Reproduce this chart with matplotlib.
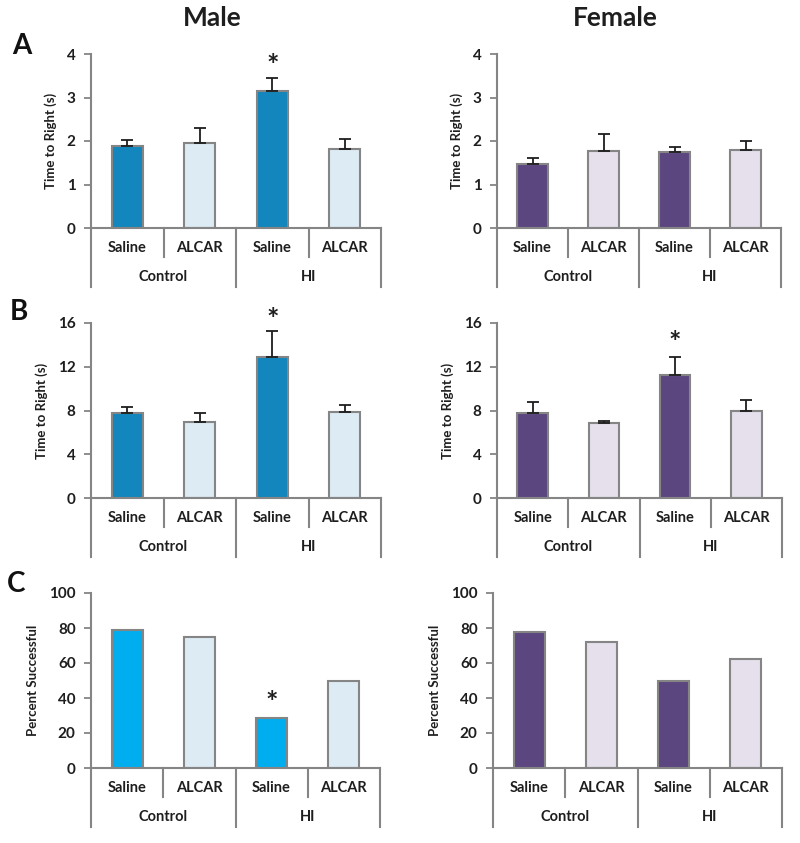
import numpy as np
import matplotlib
matplotlib.use("Agg")
import matplotlib.pyplot as plt

plt.rcParams['font.family'] = ['Lato', 'DejaVu Sans']
plt.rcParams['font.weight'] = 'bold'
plt.rcParams['axes.labelweight'] = 'bold'

categories = ["Saline", "ALCAR", "Saline", "ALCAR"]
groups = ["Control", "HI"]

# Panel A - time to right (s)
male_a = [1.88, 1.95, 3.16, 1.82]
male_a_err = [0.14, 0.35, 0.29, 0.22]
female_a = [1.48, 1.77, 1.74, 1.79]
female_a_err = [0.14, 0.39, 0.12, 0.22]

# Panel B - time to right (s)
male_b = [7.75, 6.95, 12.9, 7.85]
male_b_err = [0.55, 0.85, 2.35, 0.65]
female_b = [7.75, 6.85, 11.25, 7.95]
female_b_err = [1.05, 0.22, 1.65, 0.98]

# Panel C - percent successful
male_c = [78.6, 75.0, 28.6, 50.0]
female_c = [78.0, 72.0, 50.0, 62.5]

MALE_DARK = "#1286bd"
MALE_BRIGHT = "#00aeef"
MALE_LIGHT = "#dcebf4"
FEM_DARK = "#5c4680"
FEM_LIGHT = "#e5e0ec"
GRAY = "#858585"
INK = "#1e1e1e"

W, H = 800, 843
fig = plt.figure(figsize=(8, 8.43), dpi=100)


def make_axes(left, top, right, height):
    return fig.add_axes([left / W, 1 - (top + height) / H, (right - left) / W, height / H])


def panel(ax, vals, errs, colors, ymax, step, ylabel, hpx, star=None):
    x = np.arange(len(vals))
    ax.bar(x, vals, width=0.43, color=colors, edgecolor=GRAY, linewidth=1.5, zorder=2)
    if errs is not None:
        ax.errorbar(x, vals, yerr=[np.zeros(len(errs)), errs], fmt="none",
                    ecolor=INK, elinewidth=1.3, capsize=4, capthick=1.3, zorder=3)
    if star is not None:
        i, yv = star
        ax.text(i, yv, "*", ha="center", va="center", fontsize=21, color=INK)
    ax.set_xlim(-0.5, 3.5)
    ax.set_ylim(0, ymax)
    ax.set_yticks(np.arange(0, ymax + step / 2, step))
    ax.tick_params(axis="y", direction="out", length=5, width=1.3, color=GRAY,
                   labelsize=11, pad=6, labelcolor=INK)
    ax.set_xticks([])
    for s in ["top", "right"]:
        ax.spines[s].set_visible(False)
    for s in ["left", "bottom"]:
        ax.spines[s].set_color(GRAY)
        ax.spines[s].set_linewidth(1.5)
    ax.set_ylabel(ylabel, fontsize=9.5, color=INK, labelpad=7)

    # category axis below the plot
    tr = ax.get_xaxis_transform()
    short = -29 / hpx
    long_ = -59 / hpx
    for xs, depth in [(-0.5, long_), (0.5, short), (1.5, long_), (2.5, short), (3.5, long_)]:
        ax.plot([xs, xs], [0, depth], transform=tr, color=GRAY, lw=1.5, clip_on=False)
    for i, c in enumerate(categories):
        ax.text(i, -20 / hpx, c, transform=tr, ha="center", va="center",
                fontsize=10.5, color=INK)
    for j, g in enumerate(groups):
        ax.text(0.5 + 2 * j, -49 / hpx, g, transform=tr, ha="center", va="center",
                fontsize=10.5, color=INK)


male_cols = [MALE_DARK, MALE_LIGHT, MALE_DARK, MALE_LIGHT]
male_cols_c = [MALE_BRIGHT, MALE_LIGHT, MALE_BRIGHT, MALE_LIGHT]
fem_cols = [FEM_DARK, FEM_LIGHT, FEM_DARK, FEM_LIGHT]

ax = make_axes(91, 54, 381, 174)
panel(ax, male_a, male_a_err, male_cols, 4, 1, "Time to Right (s)", 174, star=(2, 3.72))
ax = make_axes(497, 54, 781, 174)
panel(ax, female_a, female_a_err, fem_cols, 4, 1, "Time to Right (s)", 174)

ax = make_axes(91, 323, 381, 175)
panel(ax, male_b, male_b_err, male_cols, 16, 4, "Time to Right (s)", 175, star=(2, 16.3))
ax = make_axes(497, 323, 782, 175)
panel(ax, female_b, female_b_err, fem_cols, 16, 4, "Time to Right (s)", 175, star=(2, 14.2))

ax = make_axes(91, 593, 380, 175)
panel(ax, male_c, None, male_cols_c, 100, 20, "Percent Successful", 175, star=(2, 37))
ax = make_axes(493, 593, 782, 175)
panel(ax, female_c, None, fem_cols, 100, 20, "Percent Successful", 175)

fig.text(212 / W, 1 - 18 / H, "Male", ha="center", va="center", fontsize=19, color=INK)
fig.text(615 / W, 1 - 18 / H, "Female", ha="center", va="center", fontsize=19, color=INK)
fig.text(22 / W, 1 - 46 / H, "A", ha="center", va="center", fontsize=20, color="#111111")
fig.text(19 / W, 1 - 312 / H, "B", ha="center", va="center", fontsize=20, color="#111111")
fig.text(16 / W, 1 - 584 / H, "C", ha="center", va="center", fontsize=20, color="#111111")

fig.savefig("out.png", dpi=100)
